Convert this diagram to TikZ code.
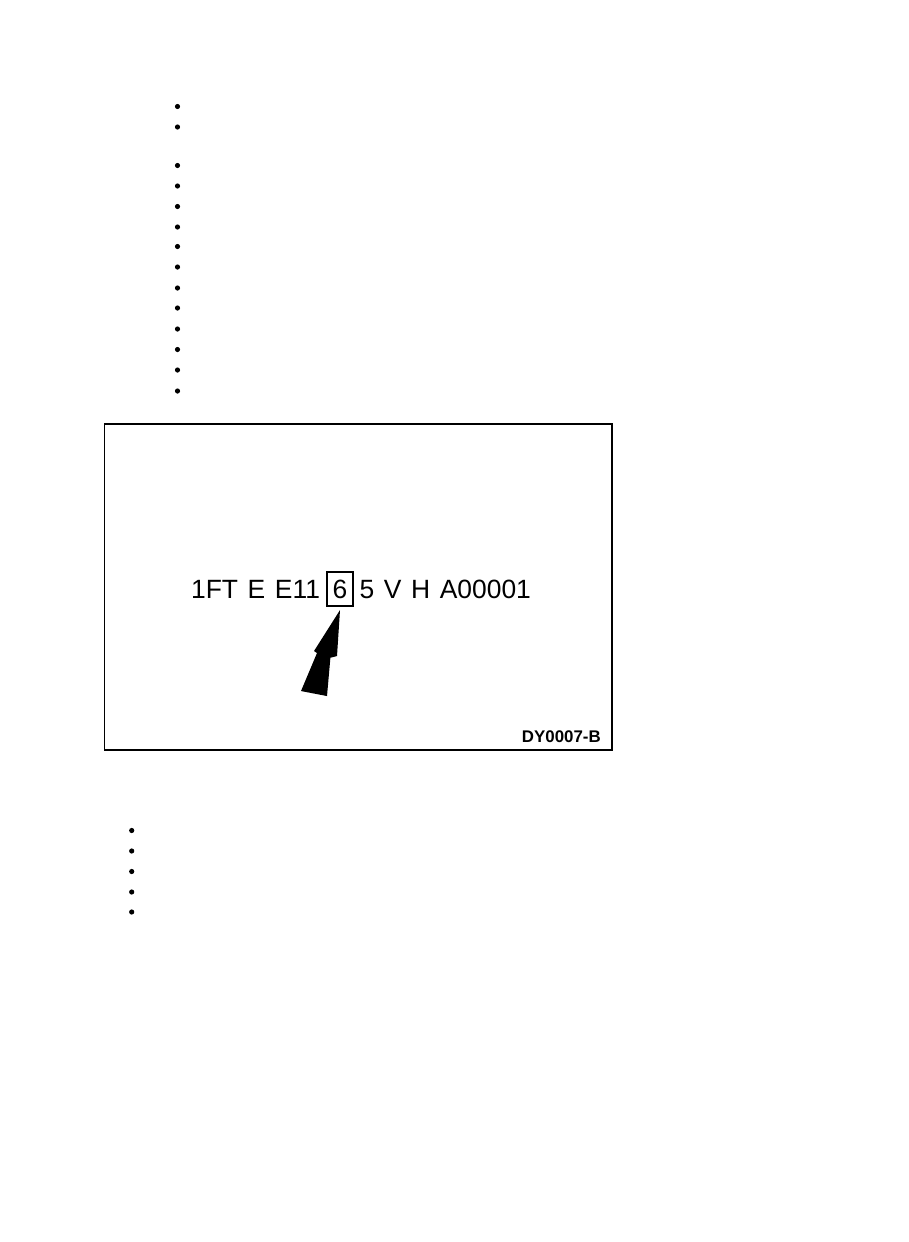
\documentclass[tikz,border=0pt]{standalone}
\usepackage{fontspec}
\setmainfont{Liberation Sans}
\newcommand\vinspacing{\spaceskip 2.4mm\relax}
\usetikzlibrary{positioning}
\tikzset{
  dot/.style={circle, fill, inner sep=0pt, minimum size=1.3mm}, % list bullets
  vin/.style={inner sep=0pt, font={\fontsize{18.8}{20}\selectfont\vinspacing}}, % the number line
  digitbox/.style={draw, line width=1.2pt, inner sep=0pt, minimum width=6.65mm, minimum height=8.5mm, font=\fontsize{18.8}{20}\selectfont},
  tag/.style={inner sep=0pt, font=\bfseries\fontsize{12}{13}\selectfont},
}

\begin{document}
\begin{tikzpicture}[x=0.25mm, y=-0.25mm]
  \useasboundingbox (0,0) rectangle (909,1242);

  % bullets above the figure
  \foreach \y [count=\i] in {106.5,127,165.5,186,206.5,227,246.5,267,288,308,329,349.5,370,391}
    \node[dot] (top-\i) at (177.5,\y) {};

  % the figure
  \draw[line width=1pt] (104.5,424) rectangle (612,750);
  \node[digitbox] (six) at (340,589) {6};
  \node[vin, left=1.4mm of six] (head) {1FT E E11};
  \node[vin, right=1.3mm of six] (tail) {5 V H A00001};
  \fill ([yshift=-0.8mm]six.south) -- ++(-26,41) -- ++(3,2) -- ++(-16,38)
        -- ++(26,5) -- ++(3.4,-38.3) -- ++(6.6,-1.7) -- cycle;
  \node[tag, anchor=base east] (code) at (601,742) {DY0007-B};

  % bullets below the figure
  \foreach \y [count=\i] in {830.5,851,871.5,892,912}
    \node[dot] (low-\i) at (131.7,\y) {};
\end{tikzpicture}
\end{document}
